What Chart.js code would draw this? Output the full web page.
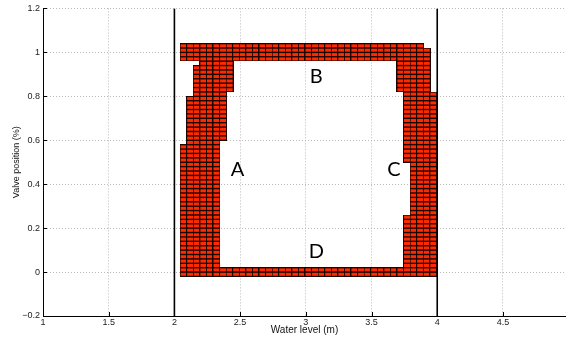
<!DOCTYPE html>
<html>
<head>
<meta charset="utf-8">
<script src="https://cdn.jsdelivr.net/npm/chart.js@4"></script>
<style>
  html, body { margin: 0; padding: 0; background: #fff; }
</style>
</head>
<body>
<canvas id="grafica" width="566" height="341"></canvas>
<script>
// centros de las columnas (nivel de agua, m) y filas (posicion de valvula)
var colX = [2.07, 2.12, 2.17, 2.22, 2.27, 2.32, 2.37, 2.42, 2.47, 2.52,
            2.57, 2.62, 2.67, 2.72, 2.77, 2.82, 2.87, 2.92, 2.97, 3.02,
            3.07, 3.12, 3.17, 3.22, 3.27, 3.32, 3.37, 3.42, 3.47, 3.52,
            3.57, 3.62, 3.67, 3.72, 3.77, 3.82, 3.87, 3.92, 3.97];
var rowY = [-0.01, 0.01, 0.03, 0.05, 0.07, 0.09, 0.11, 0.13, 0.15, 0.17,
            0.19, 0.21, 0.23, 0.25, 0.27, 0.29, 0.31, 0.33, 0.35, 0.37,
            0.39, 0.41, 0.43, 0.45, 0.47, 0.49, 0.51, 0.53, 0.55, 0.57,
            0.59, 0.61, 0.63, 0.65, 0.67, 0.69, 0.71, 0.73, 0.75, 0.77,
            0.79, 0.81, 0.83, 0.85, 0.87, 0.89, 0.91, 0.93, 0.95, 0.97,
            0.99, 1.01, 1.03];

// zonas ocupadas (rangos de centros de celda)
var zonaYmin = [-0.01, 0.97, 0.03, 0.59, 0.61, 0.81, 0.83, 0.95, 0.83, 0.51, 0.27, 0.03];
var zonaYmax = [ 0.01, 1.03, 0.57, 0.59, 0.79, 0.81, 0.93, 0.95, 1.01, 0.81, 0.49, 0.25];
var zonaXmin = [ 2.07, 2.07, 2.07, 2.12, 2.12, 2.17, 2.17, 2.22, 3.72, 3.77, 3.82, 3.77];
var zonaXmax = [ 3.97, 3.87, 2.32, 2.32, 2.37, 2.37, 2.42, 2.42, 3.92, 3.97, 3.97, 3.97];

// limites de nivel
var limites = [2, 4];

// etiquetas de zonas
var etiquetas = ['A', 'B', 'C', 'D'];
var etiquetaX = [2.48, 3.08, 3.67, 3.08];
var etiquetaY = [0.465, 0.89, 0.465, 0.095];

var xTicks = [1, 1.5, 2, 2.5, 3, 3.5, 4, 4.5];
var xTickLabels = ['1', '1.5', '2', '2.5', '3', '3.5', '4', '4.5'];
var yTicks = [-0.2, 0, 0.2, 0.4, 0.6, 0.8, 1, 1.2];
var yTickLabels = ['\u22120.2', '0', '0.2', '0.4', '0.6', '0.8', '1', '1.2'];

var EPS = 1e-6;
var celdas = [];
for (var z = 0; z < zonaYmin.length; z++) {
  colX.forEach(function (x) {
    if (x < zonaXmin[z] - EPS || x > zonaXmax[z] + EPS) return;
    rowY.forEach(function (y) {
      if (y < zonaYmin[z] - EPS || y > zonaYmax[z] + EPS) return;
      celdas.push({x: x, y: y});
    });
  });
}

var lineasLimite = limites.map(function (v) {
  return {
    type: 'line',
    data: [{x: v, y: -0.2}, {x: v, y: 1.2}],
    borderColor: '#000',
    borderWidth: 1.6,
    pointRadius: 0,
    showLine: true,
    order: 0
  };
});

// imagen de cada celda: se ajusta al tamano de la escala
var celdaImg = document.createElement('canvas');
celdaImg.width = 7;
celdaImg.height = 5;

var pluginCeldas = {
  id: 'celdas',
  afterLayout: function (chart) {
    var sx = chart.scales.x, sy = chart.scales.y;
    var w = Math.round(Math.abs(sx.getPixelForValue(1.05) - sx.getPixelForValue(1))) + 1;
    var h = Math.round(Math.abs(sy.getPixelForValue(0.02) - sy.getPixelForValue(0))) + 1;
    celdaImg.width = w;
    celdaImg.height = h;
    var c = celdaImg.getContext('2d');
    c.fillStyle = '#ff2a00';
    c.fillRect(0, 0, w, h);
    c.strokeStyle = '#1a0500';
    c.lineWidth = 1;
    c.strokeRect(0.5, 0.5, w - 1, h - 1);
  },
  afterDatasetsDraw: function (chart) {
    var ctx = chart.ctx, sx = chart.scales.x, sy = chart.scales.y;
    var a = chart.chartArea;
    ctx.save();
    // marcas de graduacion hacia dentro
    ctx.strokeStyle = '#000';
    ctx.lineWidth = 1;
    ctx.beginPath();
    xTicks.forEach(function (v) {
      var px = Math.round(sx.getPixelForValue(v)) + 0.5;
      ctx.moveTo(px, a.bottom);
      ctx.lineTo(px, a.bottom - 4);
    });
    yTicks.forEach(function (v) {
      var py = Math.round(sy.getPixelForValue(v)) + 0.5;
      ctx.moveTo(a.left, py);
      ctx.lineTo(a.left + 4, py);
    });
    ctx.stroke();
    // letras de zonas
    ctx.fillStyle = '#000';
    ctx.font = '20px Lato';
    ctx.textAlign = 'center';
    ctx.textBaseline = 'middle';
    etiquetas.forEach(function (t, i) {
      ctx.fillText(t, sx.getPixelForValue(etiquetaX[i]), sy.getPixelForValue(etiquetaY[i]));
    });
    ctx.restore();
  }
};

var config = {
  type: 'scatter',
  data: {
    datasets: [{
      data: celdas,
      pointStyle: celdaImg,
      pointRadius: 3,
      pointHoverRadius: 3,
      order: 1
    }].concat(lineasLimite)
  },
  plugins: [pluginCeldas],
  options: {
    responsive: false,
    animation: false,
    layout: { autoPadding: false, padding: { top: 7, right: 0, left: 0, bottom: 0 } },
    plugins: { legend: { display: false }, tooltip: { enabled: false } },
    scales: {
      x: {
        type: 'linear',
        min: 1,
        max: 4.98,
        afterBuildTicks: function (s) { s.ticks = xTicks.map(function (v) { return {value: v}; }); },
        afterFit: function (s) { s.height = 25; },
        ticks: {
          color: '#222',
          font: { family: 'Liberation Sans', size: 9 },
          padding: 1,
          maxRotation: 0,
          callback: function (v, i) { return xTickLabels[i]; }
        },
        grid: { color: '#b8b8b8', drawTicks: false },
        border: { color: '#000', width: 1, dash: [1, 2] },
        title: {
          display: true,
          text: 'Water level (m)',
          color: '#111',
          font: { family: 'Liberation Sans', size: 10 },
          padding: { top: 0, bottom: 5 }
        }
      },
      y: {
        type: 'linear',
        min: -0.2,
        max: 1.2,
        afterBuildTicks: function (s) { s.ticks = yTicks.map(function (v) { return {value: v}; }); },
        afterFit: function (s) { s.width = 43; },
        ticks: {
          color: '#222',
          font: { family: 'Liberation Sans', size: 9 },
          padding: 3,
          callback: function (v, i) { return yTickLabels[i]; }
        },
        grid: { color: '#b8b8b8', drawTicks: false },
        border: { color: '#000', width: 1, dash: [1, 2] },
        title: {
          display: true,
          text: 'Valve position (%)',
          color: '#111',
          font: { family: 'Liberation Sans', size: 9 },
          padding: { top: 11, bottom: 0 }
        }
      }
    }
  }
};

if (!!document.getElementById("grafica").getContext("2d")) {
  var chart = new Chart(document.getElementById("grafica").getContext("2d"), config);
}
</script>
</body>
</html>
